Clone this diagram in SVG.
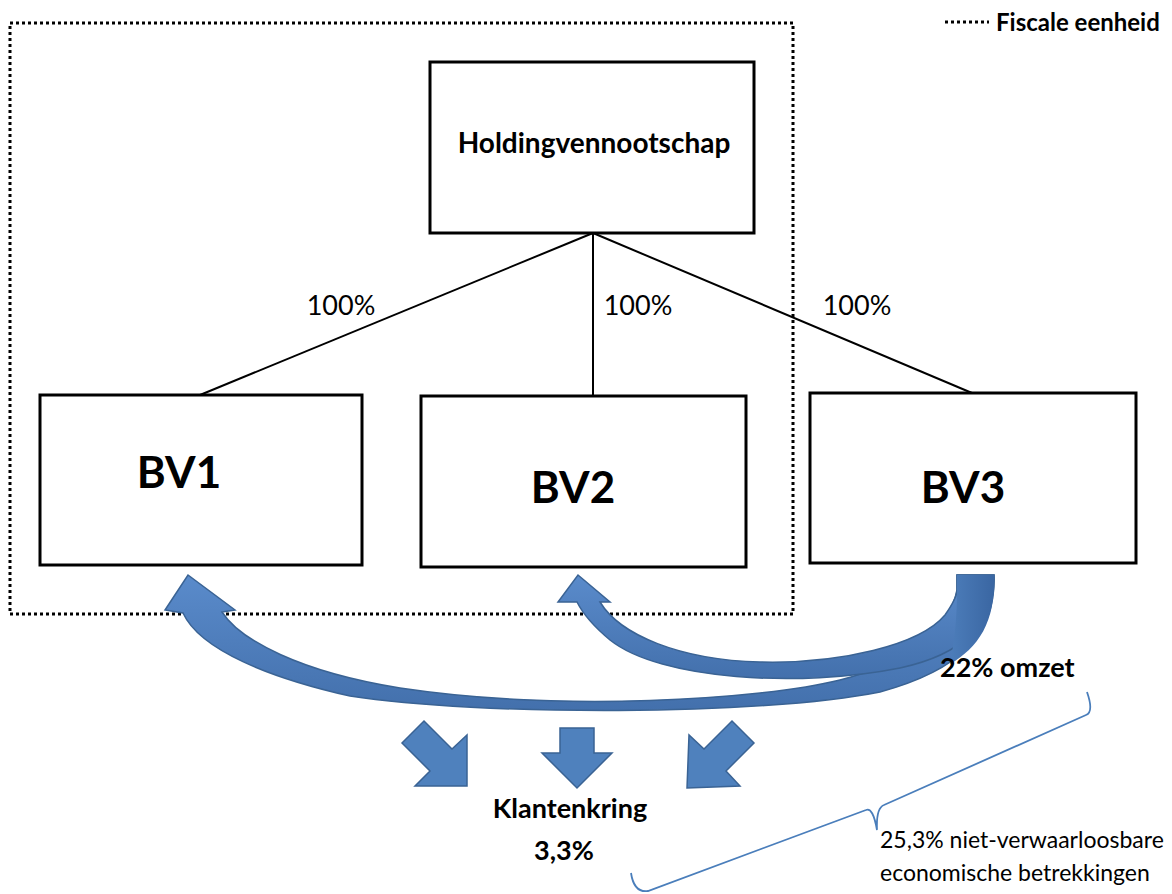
<svg xmlns="http://www.w3.org/2000/svg" width="1172" height="894" viewBox="0 0 1172 894">
<defs>
<linearGradient id="blueGrad" x1="0" y1="0" x2="0" y2="1">
<stop offset="0" stop-color="#5A8BCB"/>
<stop offset="1" stop-color="#4370AC"/>
</linearGradient>
<linearGradient id="tailGrad" x1="0" y1="0" x2="1" y2="0">
<stop offset="0" stop-color="#4C7DBA"/>
<stop offset="1" stop-color="#3A66A2"/>
</linearGradient>
</defs>
<style>
.box{fill:#fff;stroke:#000;stroke-width:3}
.line{stroke:#000;stroke-width:2;fill:none}
.dot{fill:none;stroke:#000;stroke-width:3;stroke-dasharray:3 3}
.t{font-family:Lato,"Liberation Sans",sans-serif;fill:#000}
.b{font-weight:bold}
.arrow{fill:#4F81BD;stroke:#3A6394;stroke-width:1.5;stroke-linejoin:miter}
.curve{fill:url(#blueGrad);stroke:#3A6394;stroke-width:1.5}
.brace{fill:none;stroke:#4A7EBB;stroke-width:1.8}
</style>
<rect width="1172" height="894" fill="#fff"/>

<g id="fiscale-eenheid">
<rect class="dot" x="10" y="23" width="783" height="591"/>
</g>
<g id="legend">
<line class="dot" x1="945" y1="22" x2="989" y2="22"/>
<text class="t b" x="996" y="31" font-size="24">Fiscale eenheid</text>
</g>

<g id="connectors">
<line class="line" x1="593" y1="233" x2="200" y2="395"/>
<line class="line" x1="593" y1="233" x2="593" y2="403"/>
<line class="line" x1="593" y1="233" x2="972" y2="393"/>
<text class="t" x="341" y="315" font-size="27" text-anchor="middle">100%</text>
<text class="t" x="638" y="315" font-size="27" text-anchor="middle">100%</text>
<text class="t" x="857" y="315" font-size="27" text-anchor="middle">100%</text>
</g>

<g id="holding">
<rect class="box" x="430" y="62" width="324" height="171"/>
<text class="t b" x="594" y="153" font-size="28" text-anchor="middle">Holdingvennootschap</text>
</g>
<g id="bv1">
<rect class="box" x="40" y="395" width="322" height="170"/>
<text class="t b" x="179" y="488" font-size="44" text-anchor="middle">BV1</text>
</g>
<g id="bv2">
<rect class="box" x="421" y="396" width="325" height="171"/>
<text class="t b" x="573" y="503" font-size="44" text-anchor="middle">BV2</text>
</g>
<g id="bv3">
<rect class="box" x="810" y="393" width="326" height="170"/>
<text class="t b" x="963" y="503" font-size="44" text-anchor="middle">BV3</text>
</g>

<g id="curved-arrows">
<path class="curve" d="M994,575 C996,635 960,670 880,692 C760,716 480,716 350,696 C270,678 200,650 183,613 L165,610 L188,575 L235,610 L222,612 C240,640 300,672 400,688 C560,712 760,700 840,680 C900,665 950,630 957,590 L957,575 Z"/>
<path class="curve" d="M994,575 C996,625 960,655 900,668 C800,688 660,680 610,640 C592,625 582,612 577,602 L558,602 L578,575 L610,602 L600,602 C620,635 680,660 760,662 C840,664 920,645 945,615 C952,605 957,597 957,590 L957,575 Z"/>
<path d="M957,575 L994,575 C996,622 978,648 950,664 C955,640 957,615 957,590 Z" fill="url(#tailGrad)"/>
</g>

<g id="client-arrows">
<polygon class="arrow" points="424,721 452,749 467,735 467,786 415,786 430,771 402,743"/>
<polygon class="arrow" points="560,728 594,728 594,753 612,753 577,788 542,753 560,753"/>
<polygon class="arrow" points="732,721 704,749 689,735 687,788 740,786 726,771 754,743"/>
</g>

<g id="klantenkring">
<text class="t b" x="570" y="818" font-size="27" text-anchor="middle">Klantenkring</text>
<text class="t b" x="564" y="860" font-size="27" text-anchor="middle">3,3%</text>
</g>

<g id="omzet">
<text class="t b" x="940" y="677" font-size="27">22% omzet</text>
</g>

<g id="brace-group">
<path class="brace" d="M631,873 Q634,893 648,891 L866,810 Q873,807 877,830 Q876,808 884,805 L1086,715 Q1094,712 1087,692"/>
<text class="t" x="880" y="848" font-size="23">25,3% niet-verwaarloosbare</text>
<text class="t" x="880" y="881" font-size="23">economische betrekkingen</text>
</g>
</svg>
